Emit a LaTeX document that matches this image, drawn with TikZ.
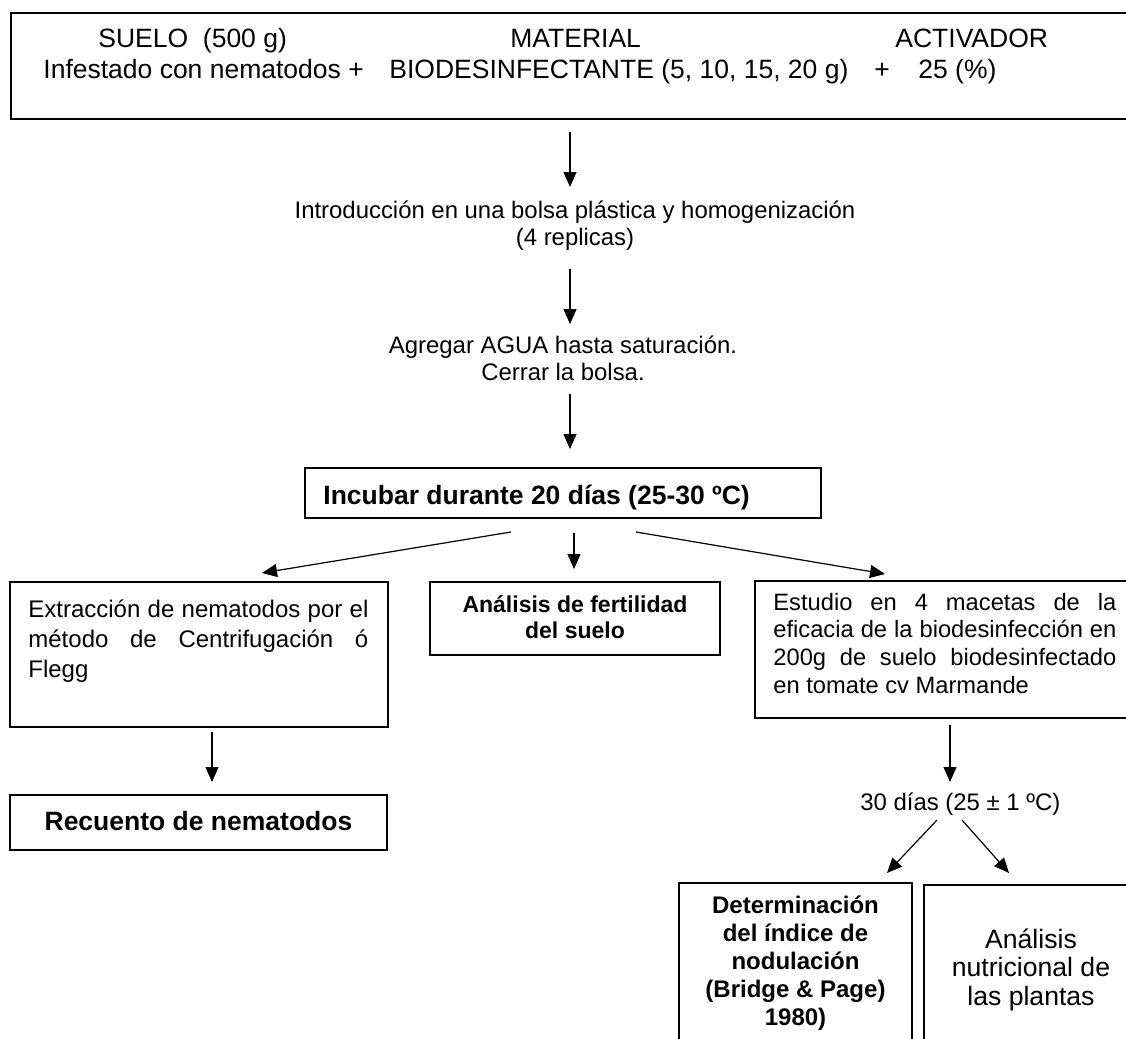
\documentclass[tikz,border=0pt]{standalone}
\usepackage{fontspec}
\setmainfont{Liberation Sans}
\usetikzlibrary{arrows.meta,fit}
\newcommand\fTop{\fontsize{13.25pt}{15.5pt}\selectfont}
\newcommand\fBody{\fontsize{11.95pt}{13.5pt}\selectfont}
\newcommand\fExt{\fontsize{12pt}{15pt}\selectfont}
\newcommand\fEst{\fontsize{11.85pt}{13.85pt}\selectfont}
\newcommand\fBig{\fontsize{13.25pt}{15.5pt}\selectfont\bfseries}
\newcommand\fMid{\fontsize{11.5pt}{13pt}\selectfont\bfseries}
\newcommand\fDet{\fontsize{12pt}{14pt}\selectfont\bfseries}
\newcommand\fNut{\fontsize{13.3pt}{14.25pt}\selectfont}
\begin{document}
\begin{tikzpicture}[x=0.5pt,y=-0.5pt,
  box/.style={draw, line width=0.7pt, inner sep=0pt},
  txt/.style={inner sep=0pt},
  arr/.style={-{Triangle[length=7.5pt,width=6.5pt]}, line width=0.6pt}]
\useasboundingbox (0,0) rectangle (1126,1039);
\clip (0,0) rectangle (1126,1039);
\fill[white] (0,0) rectangle (1126,1039);

% top box
\node[box, fit={(11,13) (1140,119)}] (top) {};
\node[txt, anchor=base west, font=\fTop] (suelo) at (98,47) {SUELO\ \ (500 g)};
\node[txt, anchor=base west, font=\fTop] (material) at (510,47) {MATERIAL};
\node[txt, anchor=base west, font=\fTop] (activ) at (895,47) {ACTIVADOR};
\node[txt, anchor=base west, font=\fTop] (infest) at (43,78) {Infestado con nematodos +};
\node[txt, anchor=base west, font=\fTop] (biodes) at (389,78) {BIODESINFECTANTE (5, 10, 15, 20 g)};
\node[txt, anchor=base west, font=\fTop] (plus) at (874,78) {+};
\node[txt, anchor=base west, font=\fTop] (pct) at (918,78) {25 (\%)};

% middle texts
\node[txt, anchor=base, font=\fBody] (intro) at (575,218)
  {\begin{tabular}[t]{@{}c@{}}Introducción en una bolsa plástica y homogenización\\(4 replicas)\end{tabular}};
\node[txt, anchor=base, font=\fBody] (agua) at (563,353)
  {\begin{tabular}[t]{@{}c@{}}Agregar AGUA hasta saturación.\\Cerrar la bolsa.\end{tabular}};

% incubar
\node[box, fit={(305,468) (821,518)}] (inc) {};
\node[txt, anchor=base west, font=\fBig] (inctxt) at (323,504) {Incubar durante 20 días (25-30 ºC)};

% row of three boxes
\node[box, fit={(10,582) (388,727)}] (ext) {};
\node[txt, anchor=base west, font=\fExt] (exttxt) at (28,617)
  {\parbox[t]{170pt}{\tolerance=10000\hyphenpenalty=10000 Extracción de nematodos por el\linebreak método de Centrifugación ó\linebreak Flegg}};
\node[box, fit={(430,582) (720,655)}] (fert) {};
\node[txt, anchor=base, font=\fMid] (ferttxt) at (575,612)
  {\begin{tabular}[t]{@{}c@{}}Análisis de fertilidad\\del suelo\end{tabular}};
\node[box, fit={(755,581) (1140,718)}] (est) {};
\node[txt, anchor=base west, font=\fEst] (esttxt) at (773,610)
  {\parbox[t]{171.5pt}{\tolerance=10000\hyphenpenalty=10000 Estudio en 4 macetas de la\linebreak eficacia de la biodesinfección en\linebreak 200g de suelo biodesinfectado\linebreak en tomate cv Marmande}};

% recuento
\node[box, fit={(10,795) (387,850)}] (rec) {};
\node[txt, anchor=base, font=\fBig] (rectxt) at (198.5,830) {Recuento de nematodos};

% 30 dias
\node[txt, anchor=base west, font=\fBody] (dias) at (860,810) {30 días (25 ± 1 ºC)};

% bottom boxes
\node[box, fit={(679,883) (912,1060)}] (det) {};
\node[txt, anchor=base, font=\fDet] (dettxt) at (795.5,913)
  {\begin{tabular}[t]{@{}c@{}}Determinación\\del índice de\\nodulación\\(Bridge \& Page)\\1980)\end{tabular}};
\node[box, fit={(924,885) (1140,1060)}] (nut) {};
\node[txt, anchor=base, font=\fNut] (nuttxt) at (1031,948)
  {\begin{tabular}[t]{@{}c@{}}Análisis\\nutricional de\\las plantas\end{tabular}};

% arrow end points
\coordinate (a1s) at (570,132); \coordinate (a1e) at (570,187);
\coordinate (a2s) at (570,269); \coordinate (a2e) at (570,324);
\coordinate (a3s) at (570,394); \coordinate (a3e) at (570,449);
\coordinate (aLs) at (511,532); \coordinate (aLe) at (262,573);
\coordinate (aMs) at (574,533); \coordinate (aMe) at (574,569);
\coordinate (aRs) at (636,532); \coordinate (aRe) at (885,574);
\coordinate (a4s) at (212,732); \coordinate (a4e) at (212,782);
\coordinate (a5s) at (950,725); \coordinate (a5e) at (950,782);
\coordinate (a6s) at (937,820); \coordinate (a6e) at (887,873);
\coordinate (a7s) at (962,820); \coordinate (a7e) at (1009,873);

\draw[arr] (a1s) -- (a1e);
\draw[arr] (a2s) -- (a2e);
\draw[arr] (a3s) -- (a3e);
\draw[arr] (aLs) -- (aLe);
\draw[arr] (aMs) -- (aMe);
\draw[arr] (aRs) -- (aRe);
\draw[arr] (a4s) -- (a4e);
\draw[arr] (a5s) -- (a5e);
\draw[arr] (a6s) -- (a6e);
\draw[arr] (a7s) -- (a7e);
\end{tikzpicture}
\end{document}
